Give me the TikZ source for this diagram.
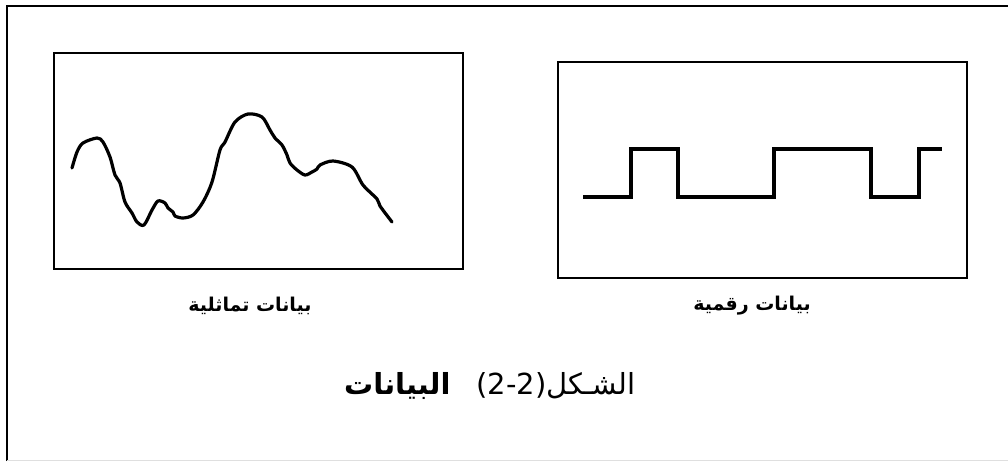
\documentclass[tikz,border=0pt]{standalone}
\usepackage{fontspec}
\usetikzlibrary{positioning}
\TeXXeTstate=1
\newfontfamily\arabicfont[Script=Arabic]{DejaVu Sans}

\begin{document}
\begin{tikzpicture}[
  x=1pt,y=-1pt,
  panel/.style={draw,line width=2pt,minimum width=409pt,minimum height=216pt,inner sep=0pt},
  wave/.style={line width=3.2pt,line join=round,line cap=round},
  tag/.style={font=\arabicfont\bfseries\fontsize{19}{22}\selectfont,inner sep=0pt},
  title/.style={font=\arabicfont\fontsize{29}{34}\selectfont,inner sep=0pt}
]
\useasboundingbox (0,0) rectangle (1008,461);
% outer frame
\draw[line width=2pt] (6.5,461) -- (6.5,5.5) -- (1008,5.5);
\draw[gray!25,line width=1pt] (6.5,460) -- (1008,460);
% panels
\node[panel] (analog) at (258.5,161) {};
\node[panel] (digital) at (762.5,170) {};
% analog signal
\draw[wave] plot[smooth,tension=0.5] coordinates {
  (72,168) (77,152) (83,143) (97,138) (103,142) (110,157) (115,175) (120,183)
  (125,202) (132,213) (137,222) (144,225) (152,210) (158,201) (165,203) (168,208)
  (173,212) (175,216) (183,218) (193,215) (203,202) (212,182) (220,150) (225,142)
  (235,122) (248,114) (262,117) (270,130) (275,138) (282,145) (287,155) (290,163)
  (297,170) (305,175) (312,172) (317,169) (320,165) (333,161) (352,167) (363,185)
  (377,199) (380,206) (392,222)};
% digital signal
\draw[wave,line cap=butt,line join=miter] (583,197) -- (631,197) -- (631,149) -- (678,149)
  -- (678,197) -- (774,197) -- (774,149) -- (871,149) -- (871,197) -- (919,197)
  -- (919,149) -- (942,149);
% labels
\node[tag] (analogtxt) at (250,306) {\beginR بيانات تماثلية\endR};
\node[tag] (digitaltxt) at (752,306) {\beginR بيانات رقمية\endR};
\node[title] (fig) at (490,386) {\beginR الشـكل\beginL(2-2)\endL\hspace{26pt}{\bfseries البيانات}\endR};
\end{tikzpicture}
\end{document}
